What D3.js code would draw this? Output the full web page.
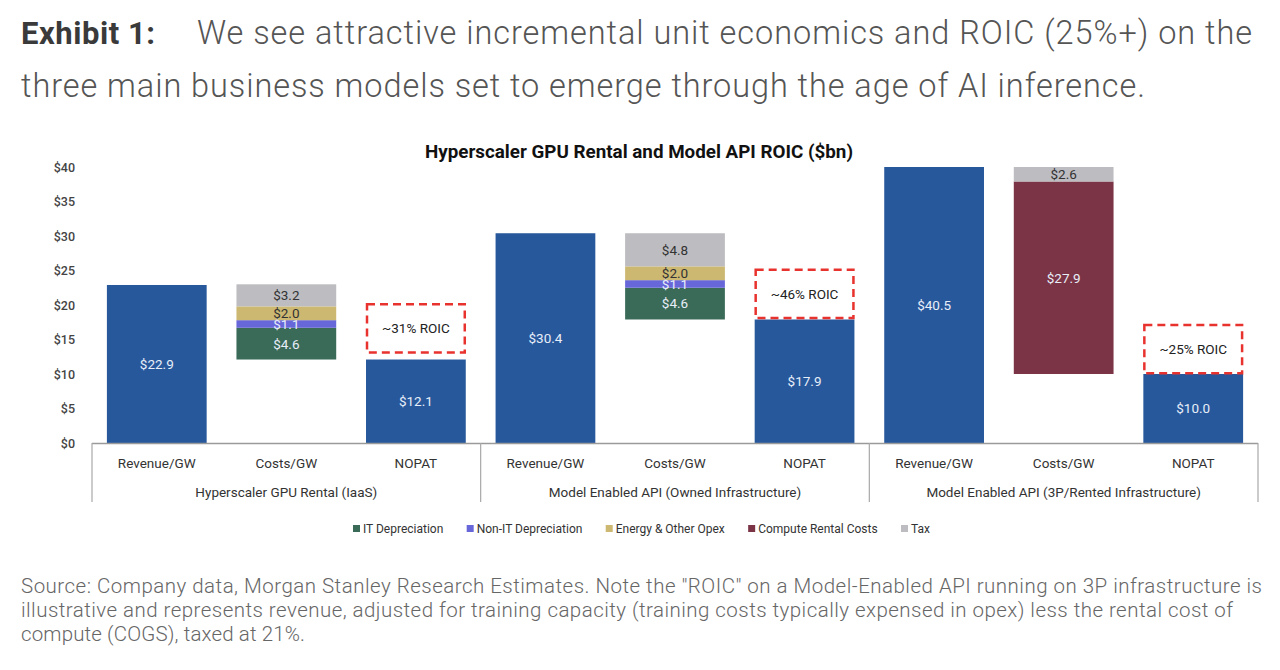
<!DOCTYPE html>
<html><head><meta charset="utf-8">
<script src="https://cdn.jsdelivr.net/npm/d3@7/dist/d3.min.js"></script>
<style>
html,body{margin:0;padding:0;background:#fff;}
svg{display:block;font-family:Roboto,"Noto Sans",sans-serif;}
</style></head>
<body>
<svg id="chart" width="1280" height="670"></svg>
<script>
// ---------- data ----------
const groups = ["Hyperscaler GPU Rental (IaaS)", "Model Enabled API (Owned Infrastructure)", "Model Enabled API (3P/Rented Infrastructure)"];
const categories = ["Revenue/GW", "Costs/GW", "NOPAT"];
const revenue = [22.9, 30.4, 40.5];
const nopat = [12.1, 17.9, 10.0];
const itDepreciation = [4.6, 4.6, 0];
const nonItDepreciation = [1.1, 1.1, 0];
const energyOpex = [2.0, 2.0, 0];
const computeRental = [0, 0, 27.9];
const tax = [3.2, 4.8, 2.6];
const roicLabels = ["~31% ROIC", "~46% ROIC", "~25% ROIC"];
const roicBoxTop = [20.1, 25.1, 17.1];
const yTicks = [0, 5, 10, 15, 20, 25, 30, 35, 40];
const seriesNames = ["IT Depreciation", "Non-IT Depreciation", "Energy & Other Opex", "Compute Rental Costs", "Tax"];

const colors = {
  "Revenue": "#27589C",
  "IT Depreciation": "#3A6A58",
  "Non-IT Depreciation": "#6767DA",
  "Energy & Other Opex": "#CDB872",
  "Compute Rental Costs": "#7B3446",
  "Tax": "#BDBDC1"
};
const darkLabel = {"Energy & Other Opex": true, "Tax": true};
const seriesValues = {
  "IT Depreciation": itDepreciation,
  "Non-IT Depreciation": nonItDepreciation,
  "Energy & Other Opex": energyOpex,
  "Compute Rental Costs": computeRental,
  "Tax": tax
};

const svg = d3.select("#chart");
const fmt = v => "$" + d3.format(".1f")(v);

// ---------- header ----------
svg.append("text").attr("x", 21).attr("y", 44).attr("font-size", 31).attr("font-weight", 700)
  .attr("fill", "#3a3a3a").attr("textLength", 134).attr("lengthAdjust", "spacing").text("Exhibit 1:");
svg.append("text").attr("x", 197).attr("y", 44).attr("font-size", 32.5).attr("font-weight", 300).attr("fill", "#555")
  .attr("textLength", 1055).attr("lengthAdjust", "spacing")
  .text("We see attractive incremental unit economics and ROIC (25%+) on the");
svg.append("text").attr("x", 21).attr("y", 97).attr("font-size", 32.5).attr("font-weight", 300).attr("fill", "#555")
  .attr("textLength", 1124).attr("lengthAdjust", "spacing")
  .text("three main business models set to emerge through the age of AI inference.");

// ---------- scales ----------
const keys = [];
groups.forEach((g, gi) => categories.forEach((c, ci) => keys.push(gi + "|" + ci)));
const x = d3.scaleBand().domain(keys).range([92, 1258]).paddingInner(0.23).paddingOuter(0.115);
const yMax = 40;
const y = d3.scaleLinear().domain([0, yMax]).range([443, 167]);
const cl = v => Math.min(v, yMax);

// title
svg.append("text").attr("x", 639).attr("y", 158).attr("text-anchor", "middle")
  .attr("font-size", 18).attr("font-weight", 700).attr("fill", "#111")
  .attr("textLength", 428).attr("lengthAdjust", "spacingAndGlyphs")
  .text("Hyperscaler GPU Rental and Model API ROIC ($bn)");

// y axis labels
const yAxis = d3.axisLeft(y).tickValues(yTicks).tickFormat(d => "$" + d).tickSize(0).tickPadding(0);
const yg = svg.append("g").attr("transform", "translate(75,0)").call(yAxis);
yg.select(".domain").remove();
yg.selectAll("text").attr("font-size", 12.5).attr("font-weight", 500).attr("fill", "#444").attr("font-family", "Roboto");

// ---------- bars ----------
const segs = [];
groups.forEach((g, gi) => {
  segs.push({key: gi + "|0", y0: 0, y1: revenue[gi], v: revenue[gi], s: "Revenue"});
  let base = nopat[gi];
  seriesNames.forEach(s => {
    const v = seriesValues[s][gi];
    if (v > 0) { segs.push({key: gi + "|1", y0: base, y1: base + v, v: v, s: s}); base += v; }
  });
  segs.push({key: gi + "|2", y0: 0, y1: nopat[gi], v: nopat[gi], s: "Revenue"});
});

svg.append("g").selectAll("rect").data(segs).join("rect")
  .attr("x", d => x(d.key)).attr("width", x.bandwidth())
  .attr("y", d => y(cl(d.y1))).attr("height", d => y(cl(d.y0)) - y(cl(d.y1)))
  .attr("fill", d => colors[d.s]);

svg.append("g").selectAll("text").data(segs).join("text")
  .attr("x", d => x(d.key) + x.bandwidth() / 2)
  .attr("y", d => y((cl(d.y0) + cl(d.y1)) / 2))
  .attr("dy", "0.36em").attr("text-anchor", "middle")
  .attr("font-size", 13.5)
  .attr("fill", d => darkLabel[d.s] ? "#333" : "#e8eef8")
  .text(d => fmt(d.v));

// ---------- ROIC annotations ----------
groups.forEach((g, gi) => {
  const k = gi + "|2";
  const top = y(roicBoxTop[gi]);
  const h = y(0) - y(7);
  svg.append("rect").attr("x", x(k) + 1).attr("y", top).attr("width", x.bandwidth() - 2).attr("height", h)
    .attr("fill", "none").attr("stroke", "#E8322E").attr("stroke-width", 2.5).attr("stroke-dasharray", "8,5");
  svg.append("text").attr("x", x(k) + x.bandwidth() / 2).attr("y", top + h / 2).attr("dy", "0.36em")
    .attr("text-anchor", "middle").attr("font-size", 13.5).attr("fill", "#222").text(roicLabels[gi]);
});

// ---------- x axis ----------
svg.append("line").attr("x1", 92).attr("x2", 1258).attr("y1", 443.5).attr("y2", 443.5)
  .attr("stroke", "#9a9a9a").attr("stroke-width", 1.5);
const step = x.step();
const groupEdges = [0, 3, 6, 9].map(i => 92 + i * step);
svg.append("g").selectAll("line").data(groupEdges).join("line")
  .attr("x1", d => d).attr("x2", d => d).attr("y1", 443).attr("y2", 502)
  .attr("stroke", "#a8a8a8").attr("stroke-width", 1.2);
svg.append("g").selectAll("text").data(keys).join("text")
  .attr("x", d => x(d) + x.bandwidth() / 2).attr("y", 468).attr("text-anchor", "middle")
  .attr("font-size", 13.5).attr("fill", "#333")
  .text(d => categories[+d.split("|")[1]]);
svg.append("g").selectAll("text").data(groups).join("text")
  .attr("x", (d, i) => (groupEdges[i] + groupEdges[i + 1]) / 2).attr("y", 497).attr("text-anchor", "middle")
  .attr("font-size", 13.5).attr("fill", "#333").text(d => d);

// ---------- legend ----------
const lg = svg.append("g");
const items = [];
let tw = 0;
seriesNames.forEach(s => {
  const it = lg.append("g");
  it.append("rect").attr("x", 0).attr("y", -8).attr("width", 7).attr("height", 7).attr("fill", colors[s]);
  const t = it.append("text").attr("x", 10).attr("y", 0).attr("font-size", 12).attr("fill", "#333").text(s);
  const w = 10 + t.node().getComputedTextLength();
  items.push({it, w}); tw += w;
});
const legendWidth = 577;
const gap = (legendWidth - tw) / (seriesNames.length - 1);
let lx = 0;
items.forEach(o => { o.it.attr("transform", `translate(${lx},0)`); lx += o.w + gap; });
lg.attr("transform", `translate(353,533)`);

// ---------- footer ----------
const foot = [
  "Source: Company data, Morgan Stanley Research Estimates. Note the \"ROIC\" on a Model-Enabled API running on 3P infrastructure is",
  "illustrative and represents revenue, adjusted for training capacity (training costs typically expensed in opex) less the rental cost of",
  "compute (COGS), taxed at 21%."
];
const footLen = [1241, 1212, 284];
svg.append("g").selectAll("text").data(foot).join("text")
  .attr("x", 21).attr("y", (d, i) => 593 + i * 24)
  .attr("font-size", 20.5).attr("font-weight", 300).attr("fill", "#666")
  .attr("textLength", (d, i) => footLen[i]).attr("lengthAdjust", "spacing").text(d => d);
</script>
</body></html>
